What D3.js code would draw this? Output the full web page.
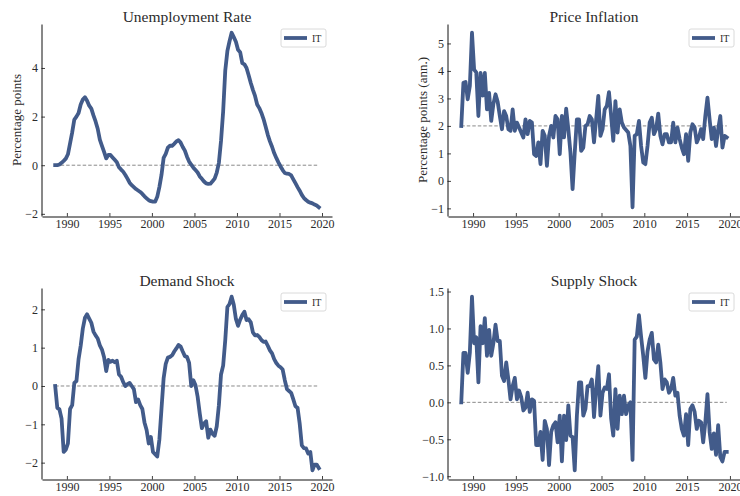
<!DOCTYPE html>
<html>
<head>
<meta charset="utf-8">
<script src="https://cdn.jsdelivr.net/npm/d3@7/dist/d3.min.js"></script>
<style>
  body { margin: 0; background: #fff; }
  text { font-family: "Liberation Serif", "DejaVu Serif", serif; fill: #2b2b2b; }
</style>
</head>
<body>
<div id="chart"></div>
<script>
// quarterly observations, 1988Q3 .. 2019Q3
const startYear = 1988, startQuarter = 3;

const unemployment = [
  0.0, 0.0,
  0.03, 0.1, 0.18, 0.27,
  0.45, 0.9, 1.35, 1.88,
  2.0, 2.15, 2.5, 2.7,
  2.8, 2.65, 2.45, 2.33,
  2.05, 1.8, 1.5, 1.05,
  0.8, 0.55, 0.28, 0.42,
  0.42, 0.32, 0.22, 0.12,
  -0.08, -0.18, -0.27, -0.4,
  -0.55, -0.72, -0.82, -0.9,
  -0.98, -1.04, -1.1, -1.18,
  -1.28, -1.36, -1.44, -1.48,
  -1.5, -1.5, -1.3, -0.9,
  -0.4, 0.3, 0.47, 0.72,
  0.8, 0.8, 0.88, 0.98,
  1.03, 0.93, 0.75, 0.6,
  0.35, 0.15, 0.02, -0.1,
  -0.2, -0.3, -0.46, -0.56,
  -0.67, -0.75, -0.77, -0.76,
  -0.66, -0.55, -0.3, 0.1,
  1.0, 2.2, 3.9, 4.7,
  5.1, 5.45, 5.27, 5.08,
  4.75, 4.65, 4.2, 4.15,
  4.0, 3.7, 3.38, 3.1,
  2.85, 2.5, 2.35, 2.15,
  1.9, 1.58, 1.25, 0.98,
  0.76, 0.5, 0.3, 0.12,
  -0.05, -0.2, -0.32, -0.35,
  -0.36, -0.42, -0.58, -0.74,
  -0.9, -1.05, -1.22, -1.35,
  -1.43, -1.5, -1.54, -1.57,
  -1.62, -1.66, -1.73
];

const inflation = [
  2.0, 3.57,
  3.6, 2.97, 3.45, 5.39,
  4.05, 3.95, 2.36, 3.93,
  3.1, 3.93, 2.6, 3.2,
  2.18, 2.8, 3.15, 2.88,
  2.36, 1.88, 2.54, 2.36,
  1.88, 1.82, 2.6, 1.82,
  2.12, 1.94, 1.76, 1.58,
  2.24, 1.7, 2.18, 2.12,
  0.97, 0.91, 1.4, 0.61,
  1.82, 1.64, 0.55, 1.64,
  2.0, 1.58, 2.36, 2.24,
  0.97, 2.36, 1.58, 2.63,
  1.88, 1.03, -0.3, 1.03,
  2.24, 2.24, 1.09, 1.21,
  2.0, 2.06, 2.36, 2.24,
  1.4, 2.24, 3.09, 1.64,
  1.88, 2.6, 2.73, 3.23,
  2.36, 1.46, 2.9, 1.76,
  2.6, 2.12, 1.94, 1.85,
  1.76, 1.27, -0.96, 1.64,
  1.7, 2.18, 1.27, 0.67,
  0.61, 1.27, 2.12, 2.3,
  1.7, 1.88, 2.45, 1.64,
  1.33, 1.7, 1.7, 1.4,
  1.4, 2.12, 1.4, 1.94,
  1.52, 1.21, 0.97, 1.7,
  0.73, 1.76, 2.06, 1.94,
  1.4, 1.58, 1.88, 1.52,
  2.36, 3.03, 2.24, 1.52,
  1.94, 1.27, 1.88, 2.36,
  1.21, 1.64, 1.58
];

const demand = [
  0.0, -0.57,
  -0.61, -0.85, -1.72, -1.66,
  -1.5, -0.6, -0.5, 0.08,
  0.13, 0.7, 1.05, 1.5,
  1.78, 1.87, 1.76, 1.65,
  1.42, 1.32, 1.24, 1.06,
  0.95, 0.75, 0.39, 0.68,
  0.63, 0.66, 0.62, 0.66,
  0.3, 0.24, 0.1, 0.0,
  0.05, 0.08, 0.0, -0.08,
  -0.42, -0.35, -0.5, -0.6,
  -0.95, -1.15, -1.5, -1.33,
  -1.72, -1.78, -1.84, -1.4,
  -0.6, 0.2, 0.58, 0.74,
  0.76, 0.8, 0.9, 0.98,
  1.07, 1.03, 0.9, 0.78,
  0.76, 0.6, 0.0, 0.15,
  0.02, -0.28, -0.72, -1.1,
  -0.98, -0.92, -1.35, -1.14,
  -1.25, -1.3, -1.05, -0.5,
  0.3, 0.53, 1.2, 2.06,
  2.14, 2.33, 2.12, 1.75,
  1.57, 1.73, 1.85, 1.94,
  1.72, 1.74, 1.66, 1.4,
  1.32, 1.33, 1.28, 1.2,
  1.15, 1.16, 1.05, 0.93,
  0.85, 0.7, 0.6, 0.53,
  0.49, 0.43, 0.15, -0.08,
  -0.13, -0.18, -0.35, -0.53,
  -0.57, -0.98, -1.55, -1.62,
  -1.63, -1.76, -1.72, -2.2,
  -2.05, -2.05, -2.14
];

const supply = [
  0.0, 0.67,
  0.67, 0.4, 0.67, 1.43,
  0.8, 0.88, 0.27, 1.03,
  0.8, 1.14, 0.63, 0.98,
  0.63, 0.8, 1.05, 0.83,
  0.83, 0.36, 0.29, 0.54,
  0.31, 0.04, 0.22, 0.33,
  0.04, 0.16, 0.07, -0.11,
  -0.07, 0.13, -0.13, 0.04,
  0.02, -0.58, -0.58, -0.4,
  -0.78, -0.25, -0.36, -0.85,
  -0.4, -0.31, -0.27, -0.54,
  -0.18, -0.8, -0.18, -0.51,
  -0.04, -0.45, -0.47, -0.92,
  -0.18, 0.27, 0.27, -0.18,
  -0.09, 0.22, 0.22, 0.31,
  -0.2, 0.18, 0.49, -0.18,
  0.13, 0.2, 0.18, 0.38,
  -0.22, -0.45, 0.18, -0.36,
  0.09, -0.16, 0.09, -0.16,
  -0.04, 0.0, -0.78, 0.85,
  0.89, 1.18, 0.89, 0.63,
  0.33, 0.69, 0.85, 0.94,
  0.58, 0.54, 0.78, 0.54,
  0.18, 0.31, 0.27, 0.13,
  0.18, 0.33, 0.09, 0.13,
  -0.18, -0.36, -0.45, -0.16,
  -0.58, -0.09, -0.04, -0.13,
  -0.36, -0.25, -0.27, -0.54,
  -0.27, 0.11, -0.4, -0.63,
  -0.42, -0.71, -0.31, -0.74,
  -0.8, -0.67, -0.67
];

const titles = ["Unemployment Rate", "Price Inflation", "Demand Shock", "Supply Shock"];
const yLabels = ["Percentage points", "Percentage points (ann.)", "", ""];
const refLines = [0, 2, 0, 0];
const yTicks = [[-2, 0, 2, 4], [-1, 0, 1, 2, 3, 4, 5], [-2, -1, 0, 1, 2], [-1.0, -0.5, 0.0, 0.5, 1.0, 1.5]];
const yFormats = ["d", "d", "d", ".1f"];
const xTicks = [1990, 1995, 2000, 2005, 2010, 2015, 2020];
const legendLabel = "IT";

const dates = unemployment.map((_, i) => startYear + (startQuarter - 1) * 0.25 + 0.125 + i * 0.25);
const seriesList = [unemployment, inflation, demand, supply];

const width = 740, height = 496;
const lineColor = "#425b8a";
const boxes = [
  { left: 42, right: 332, top: 24, bottom: 216, labelX: 21 },
  { left: 448, right: 740, top: 24, bottom: 216, labelX: 427 },
  { left: 42, right: 332, top: 288, bottom: 479 },
  { left: 448, right: 740, top: 288, bottom: 479 }
];

const svg = d3.select("#chart").append("svg")
  .attr("width", width)
  .attr("height", height)
  .style("background", "#fff");

// matplotlib-like 5% margin around the data
function padded(ext) {
  const m = (ext[1] - ext[0]) * 0.05;
  return [ext[0] - m, ext[1] + m];
}

seriesList.forEach((values, i) => {
  const b = boxes[i];
  const data = values.map((v, k) => ({ t: dates[k], v: v }));

  const x = d3.scaleLinear().domain(padded(d3.extent(dates))).range([b.left, b.right]);
  const y = d3.scaleLinear().domain(padded(d3.extent(values))).range([b.bottom, b.top]);

  const g = svg.append("g");

  // reference line
  g.append("line")
    .attr("x1", x(dates[0])).attr("x2", x(dates[dates.length - 1]))
    .attr("y1", y(refLines[i])).attr("y2", y(refLines[i]))
    .attr("stroke", "#8a8a8a")
    .attr("stroke-width", 1)
    .attr("stroke-dasharray", "3.5,2");

  const line = d3.line().x(d => x(d.t)).y(d => y(d.v));
  g.append("path")
    .datum(data)
    .attr("d", line)
    .attr("fill", "none")
    .attr("stroke", lineColor)
    .attr("stroke-width", 3.8)
    .attr("stroke-linejoin", "round")
    .attr("stroke-linecap", "square");

  // axes with inward ticks
  const xAxis = g.append("g")
    .attr("transform", `translate(0,${b.bottom + 0.5})`)
    .call(d3.axisBottom(x).tickValues(xTicks).tickFormat(d3.format("d"))
      .tickSizeInner(-3.5).tickSizeOuter(0).tickPadding(3));
  const yAxis = g.append("g")
    .attr("transform", `translate(${b.left - 0.5},0)`)
    .call(d3.axisLeft(y).tickValues(yTicks[i]).tickFormat(d3.format(yFormats[i]))
      .tickSizeInner(-3.5).tickSizeOuter(0).tickPadding(3.5));

  [xAxis, yAxis].forEach(ax => {
    ax.select(".domain").attr("stroke", "#111").attr("stroke-width", 1);
    ax.selectAll(".tick line").attr("stroke", "#111").attr("stroke-width", 0.8);
    ax.selectAll(".tick text")
      .style("font-family", '"Liberation Serif", "DejaVu Serif", serif')
      .style("font-size", "12px")
      .attr("fill", "#2b2b2b");
  });

  // title
  g.append("text")
    .attr("x", (b.left + b.right) / 2)
    .attr("y", b.top - 2.5)
    .attr("text-anchor", "middle")
    .style("font-size", "15.5px")
    .text(titles[i]);

  // y label
  if (yLabels[i]) {
    g.append("text")
      .attr("transform", `translate(${b.labelX},${(b.top + b.bottom) / 2}) rotate(-90)`)
      .attr("text-anchor", "middle")
      .style("font-size", "13px")
      .text(yLabels[i]);
  }

  // legend
  const lw = 45, lh = 18;
  const lx = b.right - 6 - lw, ly = b.top + 5;
  const lg = g.append("g").attr("transform", `translate(${lx},${ly})`);
  lg.append("rect")
    .attr("width", lw).attr("height", lh).attr("rx", 2)
    .attr("fill", "#fff").attr("fill-opacity", 0.8)
    .attr("stroke", "#d0d0d0").attr("stroke-width", 0.8);
  lg.append("line")
    .attr("x1", 3).attr("x2", 26).attr("y1", lh / 2).attr("y2", lh / 2)
    .attr("stroke", lineColor).attr("stroke-width", 3.8);
  lg.append("text")
    .attr("x", 31).attr("y", lh / 2 + 3.5)
    .style("font-size", "10px")
    .text(legendLabel);
});
</script>
</body>
</html>
